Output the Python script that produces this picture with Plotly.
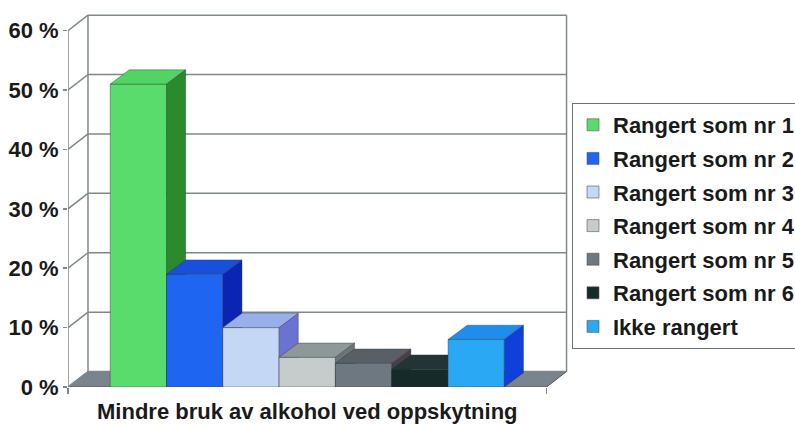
import plotly.graph_objects as go

# ---------------- data ----------------
CATEGORY = "Mindre bruk av alkohol ved oppskytning"
SERIES = ["Rangert som nr 1", "Rangert som nr 2", "Rangert som nr 3",
          "Rangert som nr 4", "Rangert som nr 5", "Rangert som nr 6",
          "Ikke rangert"]
VALUES = [51, 19, 10, 5, 4, 3, 8]
Y_TICKS = [0, 10, 20, 30, 40, 50, 60]
Y_TICK_LABELS = ["0 %", "10 %", "20 %", "30 %", "40 %", "50 %", "60 %"]

# ---------------- styles ----------------
FRONT_COLORS = ["#5ADC6C", "#1E66F2", "#C4D8F6", "#C6CCCC", "#6E7880", "#162A2A", "#2AA8F4"]
TOP_COLORS   = ["#52D464", "#1850DC", "#98B0EA", "#8E9898", "#586066", "#223434", "#1E8EEE"]
SIDE_COLORS  = ["#2A8A2C", "#0C24B4", "#6A72D2", "#6C7474", "#4A3E48", "#102020", "#1040DC"]
GRID = "#7F8989"
FLOOR = "#7A848E"
FONT = "Liberation Sans, Arial, sans-serif"
TXT = "#1A1A1A"

W, H = 795, 425
L, R_PX, T, B_PX = 68, 568, 14, 387
PX_PER_UNIT = 56.3
X_LEFT = -0.75
X_RIGHT_FRONT = len(VALUES) + 0.75
X_RANGE = [X_LEFT, X_LEFT + (R_PX - L) / PX_PER_UNIT]
PX_PER_PCT = 5.94
Y_RANGE = [0, (B_PX - T) / PX_PER_PCT]
DX, DY = 0.355, 2.6      # wall / floor depth
BDX, BDY = 0.34, 2.4     # bar depth
X_BACK_L = X_LEFT + DX
X_BACK_R = X_RIGHT_FRONT + DX

fig = go.Figure()

# legend-only entries (square swatches)
for name, col in zip(SERIES, FRONT_COLORS):
    fig.add_trace(go.Bar(x=[None], y=[None], name=name,
                         marker=dict(color=col, line=dict(color="#555", width=0.6)),
                         legendgroup=name, showlegend=True, hoverinfo="skip"))


def poly(xs, ys, col, name):
    fig.add_trace(go.Scatter(x=xs + [xs[0]], y=ys + [ys[0]], mode="lines", fill="toself",
                             fillcolor=col, line=dict(color="rgba(40,50,55,0.55)", width=0.7),
                             showlegend=False, hoverinfo="skip", legendgroup=name))


for i, (name, v) in enumerate(zip(SERIES, VALUES)):
    x0, x1 = i, i + 1
    poly([x0, x1, x1, x0], [0, 0, v, v], FRONT_COLORS[i], name)
    poly([x0, x1, x1 + BDX, x0 + BDX], [v, v, v + BDY, v + BDY], TOP_COLORS[i], name)
    poly([x1, x1 + BDX, x1 + BDX, x1], [0, BDY, v + BDY, v], SIDE_COLORS[i], name)

shapes = []
# floor
shapes.append(dict(type="path", xref="x", yref="y", layer="below",
                   path=f"M{X_LEFT},0 L{X_RIGHT_FRONT},0 L{X_BACK_R},{DY} L{X_BACK_L},{DY} Z",
                   fillcolor=FLOOR, line=dict(color="#4E5860", width=1)))
for v in Y_TICKS:
    shapes.append(dict(type="line", xref="x", yref="y", layer="below",
                       x0=X_BACK_L, x1=X_BACK_R, y0=v + DY, y1=v + DY, line=dict(color=GRID, width=1.5)))
    shapes.append(dict(type="line", xref="x", yref="y", layer="below",
                       x0=X_LEFT, x1=X_BACK_L, y0=v, y1=v + DY, line=dict(color=GRID, width=1.5)))
top = Y_TICKS[-1]
for (xa, ya, xb, yb) in [(X_LEFT, 0, X_LEFT, top), (X_BACK_L, DY, X_BACK_L, top + DY),
                         (X_BACK_R, DY, X_BACK_R, top + DY)]:
    shapes.append(dict(type="line", xref="x", yref="y", layer="below",
                       x0=xa, x1=xb, y0=ya, y1=yb, line=dict(color=GRID, width=1.5)))

fig.update_layout(
    template="none",
    width=W, height=H,
    margin=dict(l=L, r=W - R_PX, t=T, b=H - B_PX, pad=0, autoexpand=False),
    paper_bgcolor="white", plot_bgcolor="white",
    barmode="overlay",
    shapes=shapes,
    showlegend=True,
    legend=dict(x=(572 - L) / (R_PX - L), xanchor="left", y=(B_PX - 103) / (B_PX - T), yanchor="top",
                bgcolor="white", bordercolor="#6B7272", borderwidth=1,
                font=dict(family=FONT, size=22, color=TXT, weight=700),
                traceorder="grouped", tracegroupgap=2),
    xaxis=dict(range=X_RANGE, showgrid=False, zeroline=False, showline=False, automargin=False,
               tickmode="array", tickvals=[(len(VALUES)) / 2], ticktext=[CATEGORY], ticks="",
               ticklabelstandoff=9,
               tickfont=dict(family=FONT, size=22, color=TXT, weight=700),
               minor=dict(tickmode="array", tickvals=[X_LEFT, X_RIGHT_FRONT], ticks="outside",
                          ticklen=6, tickcolor=GRID, tickwidth=1.5),
               fixedrange=True),
    yaxis=dict(range=Y_RANGE, showgrid=False, zeroline=False, showline=False, automargin=False,
               tickmode="array", tickvals=Y_TICKS, ticktext=Y_TICK_LABELS,
               ticks="outside", ticklen=4, tickcolor=GRID, tickwidth=1.5,
               tickfont=dict(family=FONT, size=22, color=TXT, weight=700),
               fixedrange=True),
)

fig.write_html("out.html", config={"displayModeBar": False, "staticPlot": True},
               post_script="document.body.style.margin='0';document.body.style.overflow='hidden';")
